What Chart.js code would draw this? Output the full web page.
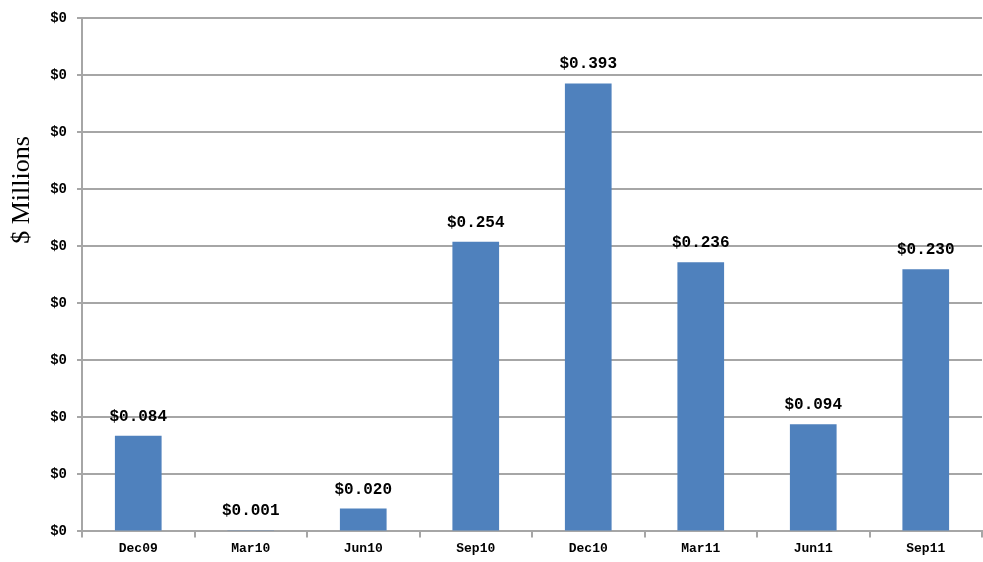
<!DOCTYPE html>
<html>
<head>
<meta charset="utf-8">
<script src="https://cdn.jsdelivr.net/npm/chart.js@4"></script>
<style>
  html, body { margin: 0; padding: 0; background: #fff; }
  #wrap { width: 983px; height: 562px; }
</style>
</head>
<body>
<div id="wrap"><canvas id="quarterChart" width="983" height="562"></canvas></div>
<script>
const quarters = ["Dec09", "Mar10", "Jun10", "Sep10", "Dec10", "Mar11", "Jun11", "Sep11"];
const amounts = [0.084, 0.001, 0.020, 0.254, 0.393, 0.236, 0.094, 0.230];
const yMax = 0.45;
const yStep = 0.05;

const gridGrey = "#a6a6a6";

// value labels above each bar
const barValues = {
    id: "barValues",
    afterDatasetsDraw(chart) {
        const ctx = chart.ctx;
        const meta = chart.getDatasetMeta(0);
        ctx.save();
        ctx.font = "bold 16px 'Liberation Mono'";
        ctx.fillStyle = "#000";
        ctx.textAlign = "center";
        ctx.textBaseline = "bottom";
        meta.data.forEach(function (bar, i) {
            ctx.fillText("$" + amounts[i].toFixed(3), bar.x, bar.y - 11);
        });
        ctx.restore();
    }
};

// rotated axis caption on the left
const sideTitle = {
    id: "sideTitle",
    afterDraw(chart) {
        const ctx = chart.ctx;
        ctx.save();
        ctx.translate(22, 190);
        ctx.rotate(-Math.PI / 2);
        ctx.font = "26px 'Liberation Serif'";
        ctx.fillStyle = "#000";
        ctx.textAlign = "center";
        ctx.textBaseline = "middle";
        ctx.fillText("$ Millions", 0, 0);
        ctx.restore();
    }
};

const ctx = document.getElementById("quarterChart").getContext("2d");

new Chart(ctx, {
    type: "bar",
    data: {
        labels: quarters,
        datasets: [{
            data: amounts,
            backgroundColor: "#4f81bd",
            borderWidth: 0,
            categoryPercentage: 1.0,
            barPercentage: 0.415
        }]
    },
    options: {
        responsive: false,
        animation: false,
        layout: { padding: { top: -15, right: 1, bottom: 1, left: 0 } },
        plugins: {
            legend: { display: false },
            tooltip: { enabled: false }
        },
        scales: {
            x: {
                offset: true,
                grid: {
                    offset: true,
                    drawOnChartArea: false,
                    color: gridGrey,
                    lineWidth: 2,
                    tickLength: 6
                },
                border: { color: gridGrey, width: 2 },
                ticks: {
                    color: "#000",
                    font: { family: "Liberation Mono", size: 13, weight: "bold" },
                    padding: 4,
                    maxRotation: 0
                }
            },
            y: {
                min: 0,
                max: yMax,
                afterFit(scale) { scale.width = 82; },
                grid: {
                    color: gridGrey,
                    lineWidth: 2,
                    tickLength: 5
                },
                border: { color: gridGrey, width: 2 },
                ticks: {
                    stepSize: yStep,
                    color: "#000",
                    padding: 10,
                    font: { family: "Liberation Mono", size: 14, weight: "bold" },
                    callback: function (v) { return "$" + Math.round(v); }
                }
            }
        }
    },
    plugins: [barValues, sideTitle]
});
</script>
</body>
</html>
